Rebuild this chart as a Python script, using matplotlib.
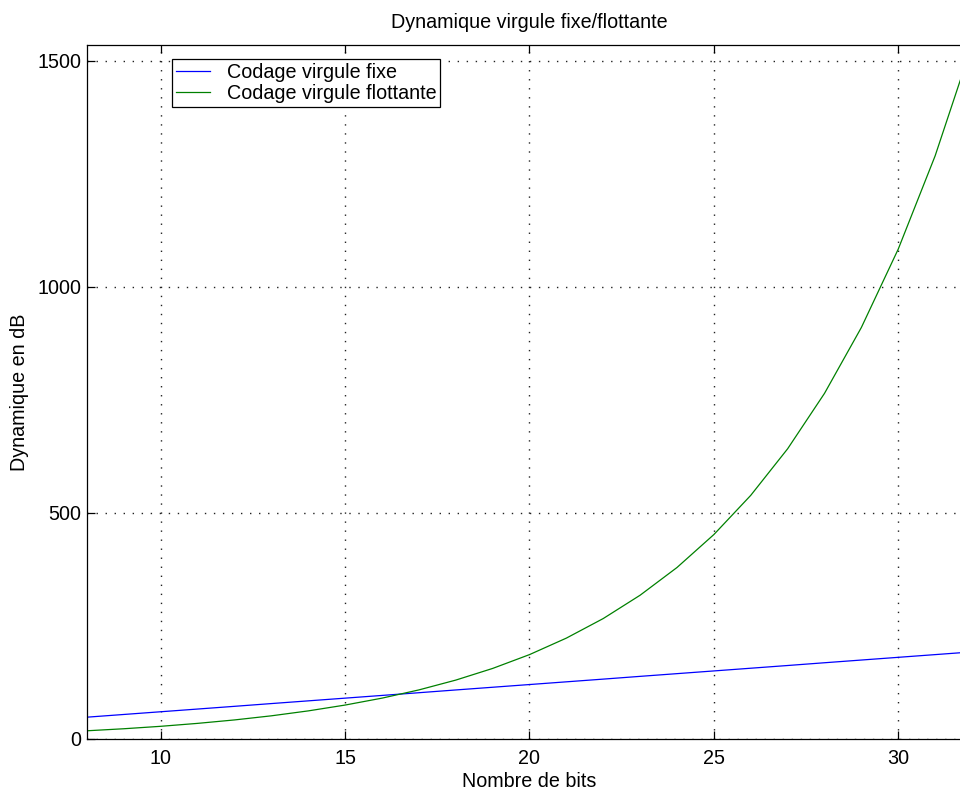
import matplotlib
matplotlib.use("Agg")
import matplotlib.pyplot as plt

plt.rcParams['font.family'] = ['Liberation Sans', 'DejaVu Sans']

nbits = [8, 9, 10, 11, 12, 13, 14, 15, 16, 17, 18, 19, 20,
         21, 22, 23, 24, 25, 26, 27, 28, 29, 30, 31, 32]
fixe = [48.2, 54.2, 60.2, 66.2, 72.2, 78.3, 84.3, 90.3, 96.3, 102.3, 108.4, 114.4, 120.4,
        126.4, 132.4, 138.5, 144.5, 150.5, 156.5, 162.5, 168.6, 174.6, 180.6, 186.6, 192.6]
flottante = [18.1, 22.6, 28.0, 34.5, 42.1, 51.2, 62.1, 75.0, 90.3, 108.5, 130.2, 156.0, 186.6,
             223.1, 266.4, 318.0, 379.3, 452.2, 538.9, 641.9, 764.5, 910.3, 1083.7, 1289.9, 1535.1]

labels = ['Codage virgule fixe', 'Codage virgule flottante']
title = 'Dynamique virgule fixe/flottante'
xlabel = 'Nombre de bits'
ylabel = 'Dynamique en dB'
xticks = [10, 15, 20, 25, 30]
yticks = [0, 500, 1000, 1500]

fig = plt.figure(figsize=(9.6, 7.9), dpi=100)
ax = fig.add_axes([0.0906, 0.0646, 1.0125 - 0.0906, 0.943 - 0.0646])

ax.plot(nbits, fixe, color=(0, 0, 1), lw=0.9, label=labels[0])
ax.plot(nbits, flottante, color=(0, 0.5, 0), lw=0.9, label=labels[1])

ax.set_xlim(8, 32)
ax.set_ylim(0, max(flottante))
ax.set_xticks(xticks)
ax.set_yticks(yticks)
ax.tick_params(direction='in', length=6, width=0.9, top=True, right=True,
               labelsize=14.2, colors='black')
ax.tick_params(axis='y', pad=4)
ax.tick_params(axis='x', pad=7)
ax.grid(True, color='#222222', linestyle=(0, (1, 5.5)), linewidth=1.0)
for s in ax.spines.values():
    s.set_linewidth(0.9)
    s.set_color('black')

ax.set_title(title, fontsize=14.2, pad=12)
ax.set_xlabel(xlabel, fontsize=14.2, labelpad=3)
ax.set_ylabel(ylabel, fontsize=14.2, labelpad=6)

leg = ax.legend(loc='upper left', bbox_to_anchor=(0.096, 0.98), fontsize=14.2,
                frameon=True, fancybox=False, edgecolor='black', framealpha=1,
                handlelength=1.72, handletextpad=0.85, borderpad=0.2, borderaxespad=0,
                labelspacing=0.12)
leg.get_frame().set_linewidth(0.9)

fig.savefig('out.png', dpi=100)
